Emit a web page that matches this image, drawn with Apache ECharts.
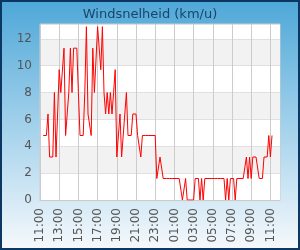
<!DOCTYPE html>
<html><head><meta charset="utf-8">
<script src="https://cdn.jsdelivr.net/npm/echarts@6/dist/echarts.min.js"></script>
<style>html,body{margin:0;padding:0;background:#fff}#c{width:300px;height:250px}</style>
</head><body><div id="c"></div>
<script>
// category axis: 10-minute steps from 11:00 to 12:00 the next day
const categories = [];
for (let m = 0; m <= 1500; m += 10) {
  const h = Math.floor((660 + m) / 60) % 24, mm = (660 + m) % 60;
  categories.push(String(h).padStart(2, '0') + ':' + String(mm).padStart(2, '0'));
}
const yTicks = [0, 2, 4, 6, 8, 10, 12];
// wind speed (km/u), one value per 10 minutes, '-' = no data
const windSpeed = [
  '-', '-', 4.8, 4.8, 4.8, 6.4, 3.2, 3.2, 3.2, 8.0,
  3.2, 6.4, 9.7, 8.0, 8.0, 11.3, 4.8, 6.4, 8.0, 11.3,
  8.0, 11.3, 11.3, 11.3, 8.0, 4.8, 4.8, 4.8, 8.0, 12.9,
  6.4, 6.4, 4.8, 11.3, 8.0, 8.0, 12.9, 12.9, 9.7, 12.9,
  8.0, 6.4, 8.0, 6.4, 8.0, 6.4, 8.0, 9.7, 3.2, 3.2,
  6.4, 3.2, 3.2, 6.4, 8.0, 4.8, 4.8, 4.8, 6.4, 6.4,
  6.4, 4.8, 4.8, 3.2, 4.8, 4.8, 4.8, 4.8, 4.8, 4.8,
  4.8, 4.8, 4.8, 1.6, 1.6, 3.2, 3.2, 1.6, 1.6, 1.6,
  1.6, 1.6, 1.6, 1.6, 1.6, 1.6, 1.6, 1.6, 1.6, 0,
  0, 1.6, 0, 0, 0, 0, 0, 1.6, 1.6, 1.6,
  0, 1.6, 0, 1.6, 1.6, 1.6, 1.6, 1.6, 1.6, 1.6,
  1.6, 1.6, 1.6, 1.6, 1.6, 1.6, 0, 1.6, 0, 1.6,
  1.6, 1.6, 0, 1.6, 1.6, 1.6, 1.6, 1.6, 1.6, 3.2,
  1.6, 3.2, 1.6, 3.2, 3.2, 3.2, 3.2, 1.6, 1.6, 1.6,
  3.2, 3.2, 3.2, 4.8, 3.2, 4.8, '-', '-', '-', '-', '-'
];
const titleText = 'Windsnelheid (km/u)';

const chart = echarts.init(document.getElementById('c'), null, {renderer: 'canvas'});
chart.setOption({
  animation: false,
  backgroundColor: {
    type: 'linear', x: 0, y: 0, x2: 0, y2: 1,
    colorStops: [
      {offset: 0, color: '#4ea7d8'},
      {offset: 0.5, color: '#a2d1eb'},
      {offset: 1, color: '#f6f9fc'}
    ]
  },
  title: {
    text: titleText, left: 'center', top: 3,
    textStyle: {fontFamily: 'DejaVu Sans', fontSize: 13, fontWeight: 'normal', color: '#1b4468'}
  },
  graphic: [{
    type: 'rect', silent: true, z: 100,
    shape: {x: 1, y: 1, width: 298, height: 248},
    style: {fill: 'none', stroke: '#0b3762', lineWidth: 2}
  }],
  grid: {left: 40, top: 24, right: 20, bottom: 50, show: true,
         backgroundColor: '#ffffff', borderColor: '#cccccc', borderWidth: 1},
  xAxis: {
    type: 'category', data: categories, boundaryGap: false,
    axisLine: {lineStyle: {color: '#cccccc'}},
    axisTick: {show: false},
    axisLabel: {interval: 11, rotate: 90, margin: 8, color: '#555555',
                fontFamily: 'DejaVu Sans', fontSize: 12},
    splitLine: {show: true, interval: 11, lineStyle: {color: '#cccccc'}}
  },
  yAxis: {
    type: 'value', min: 0, max: 13.1, interval: 2,
    axisLine: {show: false}, axisTick: {show: false},
    axisLabel: {color: '#555555', fontFamily: 'DejaVu Sans', fontSize: 12, margin: 8,
                showMaxLabel: false,
                formatter: v => yTicks.indexOf(v) >= 0 ? String(v) : ''},
    splitLine: {lineStyle: {color: '#e0e0e0'}},
    splitArea: {show: true, areaStyle: {color: ['#ffffff', '#f2f2f2']}}
  },
  series: [{
    type: 'line', data: windSpeed, showSymbol: false, symbol: 'none',
    lineStyle: {color: '#ff0000', width: 1}, connectNulls: false
  }]
});
</script></body></html>
